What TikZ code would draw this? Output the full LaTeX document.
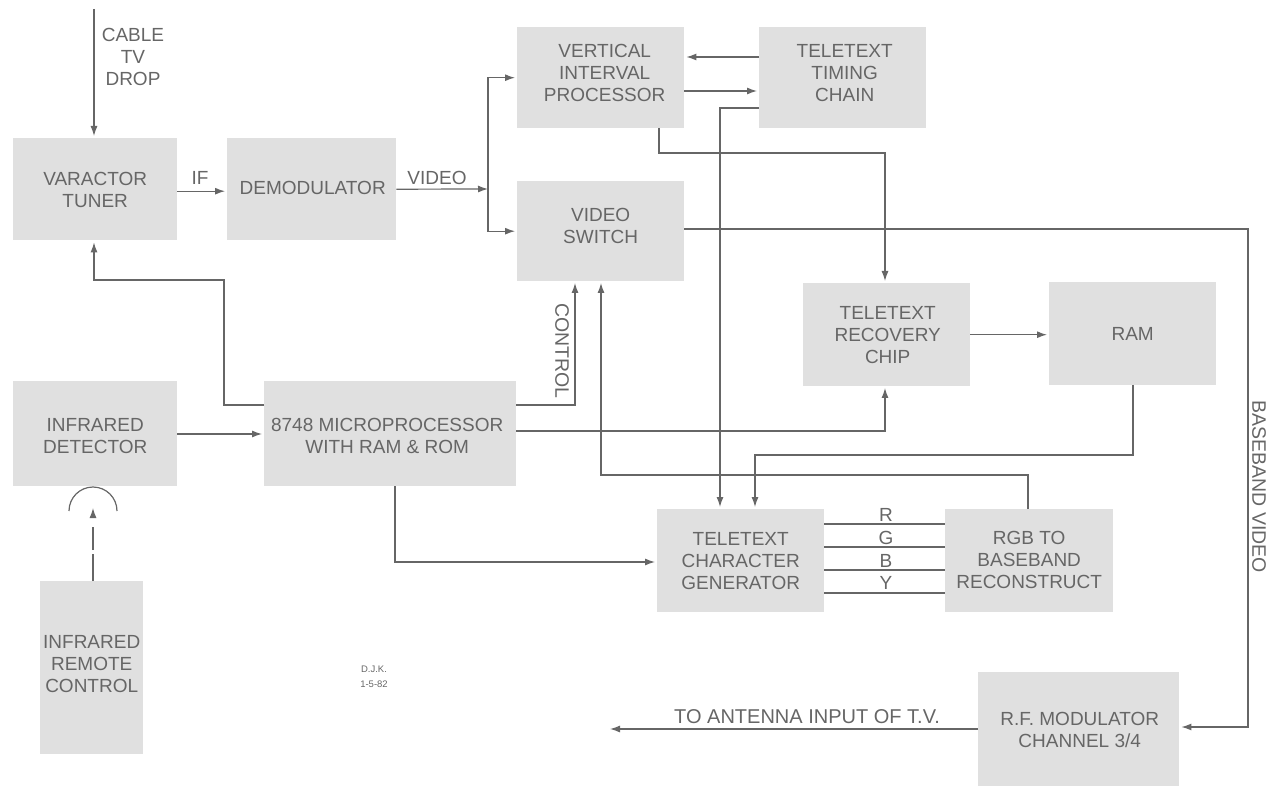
\documentclass[tikz,border=0pt]{standalone}
\usepackage{fontspec}
\setmainfont{Liberation Sans}
\usetikzlibrary{arrows.meta,calc}

\colorlet{boxgray}{black!12}
\colorlet{inkgray}{black!60}
\tikzset{
  block/.style={fill=boxgray, anchor=north west, inner sep=0pt},
  blocktext/.style={align=center, inner sep=0pt, text=inkgray, font=\fontsize{19}{22}\selectfont},
  wire/.style={draw=inkgray, line width=1.2pt},
  flow/.style={wire, shorten >=2pt, -{Latex[length=10pt,width=7pt]}},
  tag/.style={text=inkgray, font=\fontsize{19}{22}\selectfont, align=center, inner sep=0pt}
}
\newcommand{\blocknode}[7][0,0]{%
  \node[block, minimum width=#5pt-#3pt, minimum height=#6pt-#4pt] (#2) at (#3,#4) {};
  \node[blocktext] (#2text) at ($(#2.center)+(#1)$) {#7};
}

\begin{document}
\begin{tikzpicture}[x=1pt,y=-1pt]
  \useasboundingbox (0,0) rectangle (1278,786);
  % blocks, corners typed as left/top/right/bottom, optional shift of the text
  \blocknode[0,1]{tuner}{13}{138}{177}{240}{VARACTOR\\TUNER}
  \blocknode[1,-1]{demod}{227}{138}{396}{240}{DEMODULATOR}
  \blocknode[4,-5]{vip}{517}{27}{684}{128}{VERTICAL\\INTERVAL\\PROCESSOR}
  \blocknode[2,-5]{timing}{759}{27}{926}{128}{TELETEXT\\TIMING\\CHAIN}
  \blocknode[0,-5]{switch}{517}{181}{684}{281}{VIDEO\\SWITCH}
  \blocknode[1,0]{recovery}{803}{283}{970}{386}{TELETEXT\\RECOVERY\\CHIP}
  \blocknode{ram}{1049}{282}{1216}{385}{RAM}
  \blocknode[0,2]{detector}{13}{381}{177}{486}{INFRARED\\DETECTOR}
  \blocknode[-3,2]{micro}{264}{381}{516}{486}{8748 MICROPROCESSOR\\WITH RAM \& ROM}
  \blocknode[0,-4]{remote}{40}{581}{143}{754}{INFRARED\\REMOTE\\CONTROL}
  \blocknode{chargen}{657}{509}{824}{612}{TELETEXT\\CHARACTER\\GENERATOR}
  \blocknode[0,-1]{rgb}{945}{509}{1113}{612}{RGB TO\\BASEBAND\\RECONSTRUCT}
  \blocknode[1,1]{rfmod}{978}{672}{1179}{786}{R.F. MODULATOR\\CHANNEL 3/4}

  % free ends and corners
  \coordinate (drop) at (94,9);
  \coordinate (split) at (488,189);
  \coordinate (antenna) at (610,729);
  \coordinate (irsensor) at (93,508);

  % top row
  \draw[flow] (drop) -- (drop |- tuner.north);
  \draw[flow] ([yshift=-2pt]tuner.east) -- ([yshift=-2pt]demod.west);
  \draw[flow, shorten >=0pt] (demod.east) -- (split);
  \draw[flow] (split) |- (vip.west);
  \draw[flow] (split) |- (switch.west);
  \draw[flow] (timing.west |- 0,57) -- (vip.east |- 0,57);
  \draw[flow] (vip.east |- 0,91) -- (timing.west |- 0,91);
  \draw[flow] (659,128) |- (885,153) -- (885,283);
  \draw[flow] (timing.west |- 0,108) -| (720,509);
  \draw[flow] (switch.east |- 0,229) -| (1248,727) -- (rfmod.east |- 0,727);
  \draw[flow, shorten >=0pt] (rfmod.west |- antenna) -- (antenna);
  % micro connections
  \draw[flow] (micro.west |- 0,405) -| (224,280) -| (tuner.south -| drop);
  \draw[flow] (micro.east |- 0,405) -| (575,281);
  \draw[flow] (detector.east |- 0,434) -- (micro.west |- 0,434);
  \draw[flow] (micro.east |- 0,431) -| (885,386);
  \draw[flow] (395,486) |- (chargen.west |- 0,562);
  % lower loop
  \draw[flow] (recovery.east) -- (ram.west |- recovery.east);
  \draw[flow] (1133,385) |- (755,455) -- (755,509);
  \draw[flow] (1028,509) |- (601,475) -- (601,281);
  \foreach \yy/\ltr/\lbl in {524/R/515, 547/G/538, 570/B/561, 593/Y/583}{
    \draw[wire] (chargen.east |- 0,\yy) -- (rgb.west |- 0,\yy);
    \node[tag] (wire\ltr) at (886,\lbl) {\ltr};
  }
  % remote link
  \draw[flow, shorten >=0pt, dash pattern=on 27pt off 4pt on 23pt off 10pt] (remote.north -| irsensor) -- (irsensor);
  \draw[wire] (69,511) arc[start angle=180, end angle=360, radius=24];
  % labels
  \node[tag] (cable) at (133,57) {CABLE\\TV\\DROP};
  \node[tag] (iflabel) at (200,178) {IF};
  \node[tag] (videolabel) at (437,178) {VIDEO};
  \node[tag, rotate=-90, font=\fontsize{19.5}{22}\selectfont] (controllabel) at (562,351) {CONTROL};
  \node[tag, rotate=-90, font=\fontsize{19.5}{22}\selectfont] (basebandlabel) at (1259,487) {BASEBAND VIDEO};
  \node[tag, font=\fontsize{20}{22}\selectfont] (antennalabel) at (807,717) {TO ANTENNA INPUT OF T.V.};
  \node[tag, font=\fontsize{9.5}{15}\selectfont] (initials) at (374,677) {D.J.K.\\1-5-82};
\end{tikzpicture}
\end{document}
